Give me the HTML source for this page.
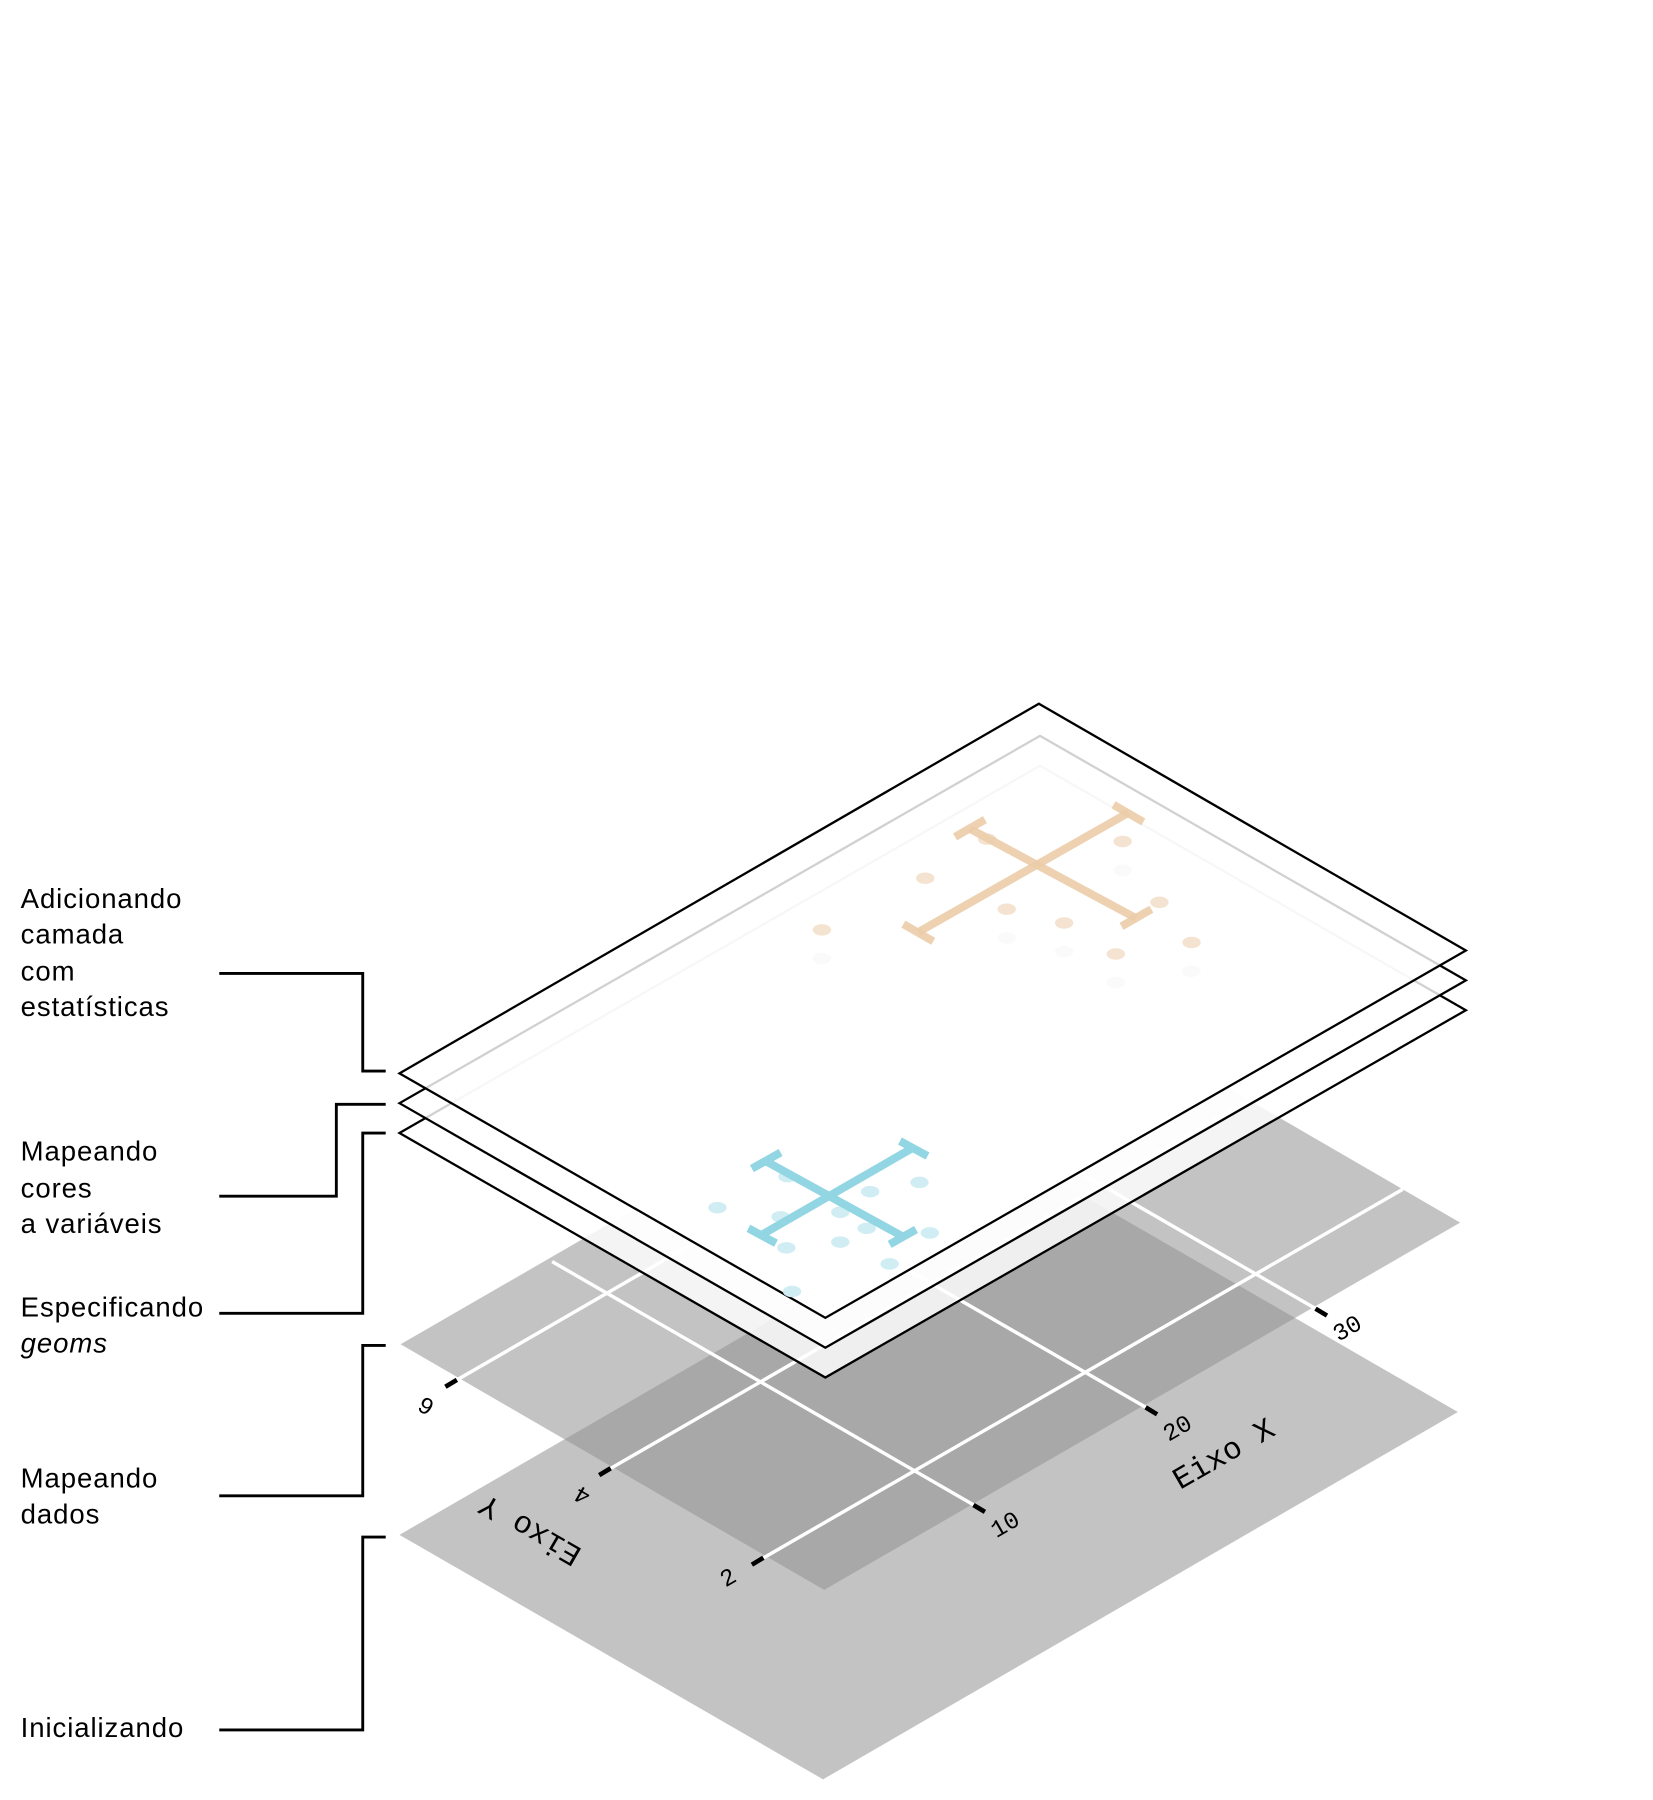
<!DOCTYPE html>
<html><head><meta charset="utf-8"><style>html,body{margin:0;padding:0;background:#fff}svg{display:block}</style></head>
<body>
<svg width="1653" height="1800" viewBox="0 0 1440 1568" preserveAspectRatio="none" xmlns="http://www.w3.org/2000/svg">
<rect width="1440" height="1568" fill="#fff"/>
<polygon points="348,1337 717,1550 1270,1230 901,1017" fill="#929292" fill-opacity="0.55"/>
<polygon points="349,1171 718,1385 1272,1065 903,851" fill="#929292" fill-opacity="0.55"/>
<g stroke="#fff" stroke-width="3">
<line x1="481" y1="1099" x2="850" y2="1312"/>
<line x1="631" y1="1014" x2="1000" y2="1227"/>
<line x1="779" y1="928" x2="1148" y2="1141"/>
<line x1="393" y1="1205" x2="950" y2="883"/>
<line x1="527" y1="1282" x2="1090" y2="957"/>
<line x1="660" y1="1360" x2="1222" y2="1036"/>
</g>
<g stroke="#000" stroke-width="4">
<line x1="848" y1="1311" x2="858" y2="1317"/>
<line x1="998" y1="1226" x2="1008" y2="1232"/>
<line x1="1146" y1="1140" x2="1156" y2="1146"/>
<line x1="398" y1="1202" x2="388" y2="1208"/>
<line x1="532" y1="1279" x2="522" y2="1285"/>
<line x1="665" y1="1357" x2="655" y2="1363"/>
</g>
<g font-family="Liberation Mono, DejaVu Sans Mono, monospace" font-size="21" fill="#000">
<text transform="translate(868,1340) rotate(-30)">10</text>
<text transform="translate(1018,1256) rotate(-30)">20</text>
<text transform="translate(1166,1169) rotate(-30)">30</text>
<text font-size="27" transform="translate(1028,1298) rotate(-30)">Eixo X</text>
<text transform="translate(380,1222) rotate(210)">6</text>
<text transform="translate(516,1300) rotate(210)">4</text>
<text transform="translate(632,1383) rotate(-30)">2</text>
<text font-size="27" transform="translate(508,1350) rotate(210)">Eixo Y</text>
</g>
<polygon points="348,987 719,1200 1277,880 906,667" fill="#fff" fill-opacity="0.82" stroke="#000" stroke-width="2"/>
<polygon points="348,961 719,1174 1277,854 906,641" fill="#fff" fill-opacity="0.82" stroke="#000" stroke-width="2"/>
<polygon points="348,935 719,1148 1277,828 905,613" fill="#fff" fill-opacity="0.82" stroke="#000" stroke-width="2"/>
<g fill="#f5e3d1">
<ellipse cx="716" cy="810" rx="8" ry="5"/><ellipse cx="806" cy="765" rx="8" ry="5"/>
<ellipse cx="877" cy="792" rx="8" ry="5"/><ellipse cx="927" cy="804" rx="8" ry="5"/>
<ellipse cx="972" cy="831" rx="8" ry="5"/><ellipse cx="1010" cy="786" rx="8" ry="5"/>
<ellipse cx="1038" cy="821" rx="8" ry="5"/><ellipse cx="978" cy="733" rx="8" ry="5"/>
<ellipse cx="860" cy="731" rx="8" ry="5"/>
</g>
<g fill="#fafafa">
<ellipse cx="716" cy="835" rx="8" ry="5"/><ellipse cx="877" cy="817" rx="8" ry="5"/>
<ellipse cx="927" cy="829" rx="8" ry="5"/><ellipse cx="972" cy="856" rx="8" ry="5"/>
<ellipse cx="1038" cy="846" rx="8" ry="5"/><ellipse cx="978" cy="758" rx="8" ry="5"/>
</g>
<g stroke="#ebcca9" stroke-width="7" fill="none" stroke-opacity="0.9">
<line x1="800" y1="812" x2="983" y2="708"/>
<line x1="787" y1="805" x2="813" y2="820"/>
<line x1="970" y1="701" x2="996" y2="716"/>
<line x1="845" y1="722" x2="990" y2="800"/>
<line x1="832" y1="729" x2="858" y2="714"/>
<line x1="977" y1="807" x2="1003" y2="792"/>
</g>
<g fill="#cfedf3">
<ellipse cx="625" cy="1052" rx="8" ry="5"/><ellipse cx="680" cy="1060" rx="8" ry="5"/>
<ellipse cx="732" cy="1056" rx="8" ry="5"/><ellipse cx="758" cy="1038" rx="8" ry="5"/>
<ellipse cx="801" cy="1030" rx="8" ry="5"/><ellipse cx="755" cy="1070" rx="8" ry="5"/>
<ellipse cx="810" cy="1074" rx="8" ry="5"/><ellipse cx="685" cy="1087" rx="8" ry="5"/>
<ellipse cx="732" cy="1082" rx="8" ry="5"/><ellipse cx="775" cy="1101" rx="8" ry="5"/>
<ellipse cx="690" cy="1125" rx="8" ry="5"/><ellipse cx="686" cy="1025" rx="8" ry="5"/>
</g>
<g stroke="#92d5e3" stroke-width="7" fill="none">
<line x1="663" y1="1076" x2="795" y2="1000"/>
<line x1="652" y1="1070" x2="676" y2="1083"/>
<line x1="784" y1="994" x2="808" y2="1007"/>
<line x1="668" y1="1012" x2="788" y2="1078"/>
<line x1="655" y1="1018" x2="680" y2="1004"/>
<line x1="775" y1="1084" x2="798" y2="1071"/>
</g>
<g stroke="#000" stroke-width="2.5" fill="none">
<polyline points="191,848 316,848 316,933 336,933"/>
<polyline points="191,1042 293,1042 293,962 336,962"/>
<polyline points="191,1144 316,1144 316,987 336,987"/>
<polyline points="191,1303 316,1303 316,1172 336,1172"/>
<polyline points="191,1507 316,1507 316,1339 336,1339"/>
</g>
<g font-family="Liberation Sans, DejaVu Sans, sans-serif" font-size="24" letter-spacing="0.8" fill="#000">
<text x="18" y="791">Adicionando</text>
<text x="18" y="822">camada</text>
<text x="18" y="854">com</text>
<text x="18" y="885">estatísticas</text>
<text x="18" y="1011">Mapeando</text>
<text x="18" y="1043">cores</text>
<text x="18" y="1074">a variáveis</text>
<text x="18" y="1147">Especificando</text>
<text x="18" y="1178" font-style="italic">geoms</text>
<text x="18" y="1296">Mapeando</text>
<text x="18" y="1327">dados</text>
<text x="18" y="1513">Inicializando</text>
</g>
</svg>
</body></html>
